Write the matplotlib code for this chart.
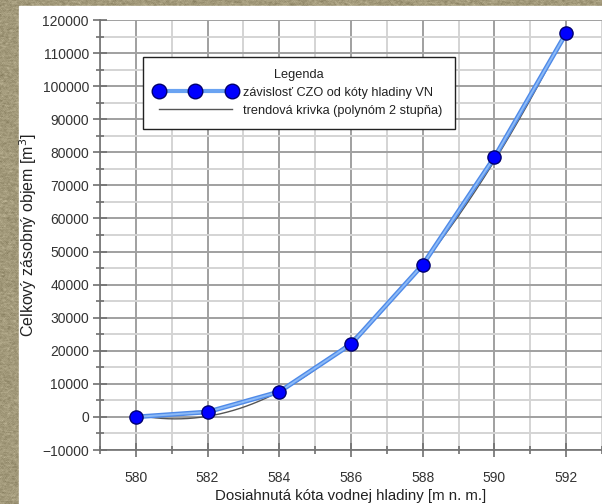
import matplotlib.pyplot as plt
from matplotlib.patches import Rectangle
from matplotlib.ticker import MultipleLocator
import numpy as np

plt.rcParams['font.family'] = ['Liberation Sans', 'DejaVu Sans']

# kóta hladiny [m n. m.] a celkový objem [m3]
kota = [580, 582, 584, 586, 588, 590, 592]
objem = [0, 1500, 7600, 22000, 46000, 78500, 116000]

W, H = 602, 504
fig = plt.figure(figsize=(W / 100, H / 100), dpi=100)

# kamenné pozadie
rng = np.random.default_rng(3)
tex = rng.normal(0, 1, (H, W))
tex = (tex + np.roll(tex, 1, 0) + np.roll(tex, 1, 1) + np.roll(tex, -1, 1)) / 4
base = np.array([162, 153, 122]) / 255
img = np.clip(base[None, None, :] + tex[:, :, None] * 0.06, 0, 1)
fig.figimage(img, 0, 0, zorder=-2)

# biely panel
fig.patches.append(Rectangle((19 / W, 0), 1 - 19 / W, 1 - 6 / H,
                             transform=fig.transFigure, color='white', zorder=-1))

ax = fig.add_axes([100 / W, (H - 450) / H, (W - 100) / W, (450 - 20) / H])
ax.set_facecolor('none')

ax.set_xlim(579, 593)
ax.set_ylim(-10000, 120000)
ax.xaxis.set_major_locator(MultipleLocator(2))
ax.xaxis.set_minor_locator(MultipleLocator(1))
ax.yaxis.set_major_locator(MultipleLocator(10000))
ax.yaxis.set_minor_locator(MultipleLocator(5000))

ax.grid(which='major', color='#a0a0a0', lw=1.4)
ax.grid(which='minor', color='#d4d4d4', lw=1.4)
ax.set_axisbelow(True)

for s in ['top', 'right']:
    ax.spines[s].set_visible(False)
for s in ['left', 'bottom']:
    ax.spines[s].set_color('#707070')
    ax.spines[s].set_linewidth(1.2)

ax.tick_params(which='major', direction='inout', length=10, width=1.2, color='#707070',
               labelsize=10, labelcolor='#333333')
ax.tick_params(which='minor', direction='inout', length=6, width=1.2, color='#707070')
ax.tick_params(axis='y', pad=3)
ax.tick_params(axis='x', pad=10)

# trendová krivka - polynóm 2. stupňa
koef = np.polyfit(kota, objem, 2)
xt = np.linspace(kota[0], kota[-1], 200)
ax.plot(xt, np.polyval(koef, xt), color='#555555', lw=1.0, zorder=3,
        label='trendová krivka (polynóm 2 stupňa)')

# namerané hodnoty - modrá čiara so svetlejším stredom
ax.plot(kota, objem, color='#4f8ae8', lw=3.4, zorder=4, solid_capstyle='round')
ax.plot(kota, objem, color='#8cbaf7', lw=1.4, zorder=4.5, marker='o', ms=9.5,
        mfc='#0000ff', mec='#000070', mew=1)
hb, = ax.plot([], [], color='#6aa3f2', lw=3, marker='o', ms=10.5,
              mfc='#0000ff', mec='#000070', mew=1,
              label='závislosť CZO od kóty hladiny VN')

h, l = ax.get_legend_handles_labels()
leg = ax.legend(h[::-1], l[::-1], title='Legenda', loc='upper left',
                bbox_to_anchor=(43 / 502, 1 - 37 / 430), numpoints=3,
                handlelength=6.3, fontsize=9.2, title_fontsize=9.2,
                fancybox=False, framealpha=1, edgecolor='#222222',
                borderpad=0.95, labelspacing=0.45, handletextpad=0.6,
                borderaxespad=0)
leg.get_frame().set_linewidth(1.0)
leg.get_title().set_color('#222222')
for t in leg.get_texts():
    t.set_color('#222222')

ax.set_xlabel('Dosiahnutá kóta vodnej hladiny [m n. m.]', fontsize=10.8, color='#222222',
              labelpad=3)
ax.set_ylabel('Celkový zásobný objem [m$^3$]', fontsize=11.5, color='#222222', labelpad=2)

fig.savefig('out.png', dpi=100)
